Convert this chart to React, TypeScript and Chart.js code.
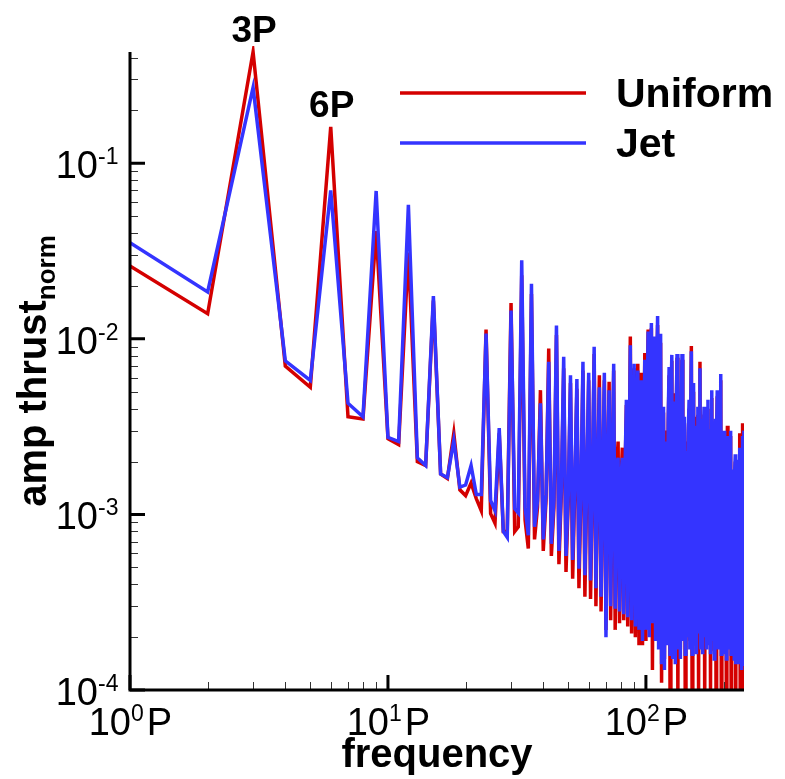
import React, { useEffect, useRef } from 'react';
import { Chart, registerables } from 'chart.js';

Chart.register(...registerables);

// ---------- DATA ----------
const freqLow = [1, 2, 3, 4, 5, 6, 7, 8, 9, 10, 11, 12, 13, 14, 15, 16, 17, 18, 19, 20, 21, 22, 23, 24, 25, 26, 27, 28, 29];
const freqMid = [30, 31, 32, 33, 34, 35, 36, 37, 38, 39, 40, 41, 42, 43, 44, 45, 46, 47, 48, 49, 50, 51, 52, 53, 54, 55, 56, 57, 58, 59, 60, 61, 62, 63, 64, 65, 66, 67, 68, 69, 70, 71, 72, 73, 74, 75, 76, 77, 78, 79, 80, 81, 82, 83, 84, 85, 86, 87, 88, 89, 90, 91, 92, 93, 94, 95, 96, 97, 98, 99];
const freqHigh = [100, 101, 102, 103, 104, 105, 106, 107, 108, 109, 110, 111, 112, 113, 114, 115, 116, 117, 118, 119, 120, 121, 122, 123, 124, 125, 126, 127, 128, 129, 130, 131, 132, 133, 134, 135, 136, 137, 138, 139, 140, 141, 142, 143, 144, 145, 146, 147, 148, 149, 150, 151, 152, 153, 154, 155, 156, 157, 158, 159, 160, 161, 162, 163, 164, 165, 166, 167, 168, 169, 170, 171, 172, 173, 174, 175, 176, 177, 178, 179, 180, 181, 182, 183, 184, 185, 186, 187, 188, 189, 190, 191, 192, 193, 194, 195, 196, 197, 198, 199, 200, 201, 202, 203, 204, 205, 206, 207, 208, 209, 210, 211, 212, 213, 214, 215, 216, 217, 218, 219, 220, 221, 222, 223, 224, 225, 226, 227, 228, 229, 230, 231, 232, 233, 234, 235, 236, 237, 238, 239, 240];

const uniformLow = [0.026, 0.0139, 0.43, 0.0070, 0.0053, 0.161, 0.0036, 0.0035, 0.041, 0.0027,
  0.0025, 0.031, 0.0020, 0.0019, 0.0165, 0.0017, 0.0016, 0.0029, 0.00138, 0.00128,
  0.00151, 0.00123, 0.00105, 0.0113, 0.00101, 0.00089, 0.0029, 0.0008, 0.0008];
const jetLow = [0.0353, 0.0185, 0.27, 0.0075, 0.0058, 0.070, 0.0043, 0.0036, 0.0695, 0.00275,
  0.0026, 0.058, 0.0021, 0.0019, 0.0175, 0.0017, 0.00162, 0.00264, 0.00143, 0.00147,
  0.0019, 0.0013, 0.0013, 0.0107, 0.0012, 0.00105, 0.0031, 0.0008, 0.00074];

const uniformMid = [0.016, 0.0008, 0.00085, 0.023, 0.00093, 0.00064, 0.018, 0.00072, 0.0011, 0.0051,
  0.00062, 0.0012, 0.0088, 0.00058, 0.0011, 0.0105, 0.00052, 0.0013, 0.0068, 0.00047,
  0.0012, 0.0056, 0.00043, 0.0014, 0.0052, 0.00038, 0.0013, 0.0066, 0.00034, 0.0015,
  0.0058, 0.00033, 0.0014, 0.0082, 0.0003, 0.0016, 0.0062, 0.00028, 0.0015, 0.0058,
  0.00022, 0.0017, 0.0057, 0.00025, 0.0016, 0.0066, 0.00022, 0.0018, 0.0026, 0.00024,
  0.0015, 0.0024, 0.00025, 0.0017, 0.0042, 0.00023, 0.0016, 0.0103, 0.00021, 0.0018,
  0.0068, 0.0002, 0.0017, 0.0072, 0.00018, 0.0019, 0.0064, 0.00018, 0.0018, 0.0083];
const jetMid = [0.0145, 0.00108, 0.00102, 0.028, 0.0011, 0.00076, 0.0206, 0.00085, 0.0012, 0.0043,
  0.00072, 0.0013, 0.0074, 0.00068, 0.0012, 0.0119, 0.00062, 0.0014, 0.0079, 0.00058,
  0.0013, 0.0062, 0.00055, 0.0015, 0.0059, 0.00049, 0.0014, 0.0074, 0.00045, 0.0016,
  0.0064, 0.00042, 0.0015, 0.009, 0.00038, 0.0017, 0.0053, 0.00034, 0.0016, 0.0064,
  0.0002, 0.0018, 0.0051, 0.0003, 0.0017, 0.0072, 0.00029, 0.0019, 0.0021, 0.00028,
  0.0016, 0.0021, 0.00027, 0.0018, 0.0045, 0.00026, 0.0017, 0.0092, 0.00025, 0.0019,
  0.0072, 0.00023, 0.0018, 0.0066, 0.00022, 0.002, 0.0058, 0.00019, 0.0019, 0.0076];

const uniformHigh = [
  0.00019, 0.0036, 0.0113, 0.00022, 0.005, 0.0115, 0.00013, 0.004, 0.0098, 0.00021, 0.0054, 0.012,
  0.00019, 0.0045, 0.0095, 0.00011, 0.0025, 0.0038, 0.00015, 0.0024, 0.003, 0.0002, 0.0032, 0.0062,
  0.0001, 0.0036, 0.0075, 0.00017, 0.0027, 0.0049, 0.00016, 0.0034, 0.0078, 0.00009, 0.002, 0.0026,
  0.00017, 0.0032, 0.0076, 0.00021, 0.0025, 0.0033, 0.0001, 0.0018, 0.0026, 0.00022, 0.0027, 0.004,
  0.00019, 0.003, 0.0091, 0.00009, 0.0027, 0.005, 0.0002, 0.0022, 0.0036, 0.00018, 0.0025, 0.0037,
  0.0001, 0.0027, 0.0074, 0.00019, 0.0022, 0.003, 0.00018, 0.0024, 0.0037, 0.00008, 0.002, 0.0025,
  0.00019, 0.0025, 0.004, 0.0002, 0.0015, 0.0018, 0.0001, 0.0027, 0.0046, 0.00021, 0.0018, 0.0022,
  0.00017, 0.0022, 0.0031, 0.00009, 0.0027, 0.0047, 0.00019, 0.0022, 0.003, 0.0002, 0.0029, 0.0058,
  0.0001, 0.0018, 0.0023, 0.00022, 0.0022, 0.0027, 0.00018, 0.0017, 0.0024, 0.00008, 0.002, 0.0032,
  0.0002, 0.0018, 0.0024, 0.00019, 0.0021, 0.0028, 0.0001, 0.0014, 0.0016, 0.00023, 0.0014, 0.0016,
  0.00017, 0.0016, 0.002, 0.00009, 0.0014, 0.0017, 0.0002, 0.0014, 0.0016, 0.00016, 0.0018, 0.0029,
  0.0001, 0.0016, 0.0019, 0.00015, 0.002, 0.0033, 0.00009, 0.0022, 0.0033];
const jetHigh = [
  0.00022, 0.004, 0.011, 0.0002, 0.0055, 0.0123, 0.00024, 0.0045, 0.0103, 0.00019, 0.006, 0.0135,
  0.00017, 0.005, 0.0107, 0.00014, 0.0028, 0.0041, 0.00013, 0.0022, 0.0026, 0.00018, 0.0035, 0.0069,
  0.00016, 0.004, 0.0081, 0.00015, 0.003, 0.0044, 0.00014, 0.0038, 0.0082, 0.00017, 0.0022, 0.0024,
  0.00015, 0.0036, 0.0082, 0.00019, 0.0028, 0.0036, 0.00016, 0.002, 0.0023, 0.0002, 0.003, 0.0045,
  0.00017, 0.0034, 0.0085, 0.00016, 0.003, 0.0056, 0.00018, 0.0024, 0.0032, 0.00016, 0.0028, 0.0041,
  0.00021, 0.003, 0.0068, 0.00017, 0.0024, 0.0035, 0.00016, 0.0027, 0.0041, 0.0002, 0.0022, 0.0028,
  0.00017, 0.0028, 0.0045, 0.00018, 0.0017, 0.002, 0.00016, 0.003, 0.0051, 0.00019, 0.002, 0.0024,
  0.00015, 0.0025, 0.0035, 0.00021, 0.003, 0.0051, 0.00017, 0.0024, 0.0033, 0.00018, 0.0032, 0.0063,
  0.00016, 0.002, 0.0025, 0.0002, 0.0024, 0.003, 0.00016, 0.0019, 0.0022, 0.00015, 0.0022, 0.0028,
  0.00018, 0.002, 0.0026, 0.00017, 0.0023, 0.003, 0.00016, 0.0015, 0.0017, 0.00021, 0.0016, 0.0018,
  0.00015, 0.0018, 0.0022, 0.00014, 0.0016, 0.0019, 0.00018, 0.0015, 0.0017, 0.00014, 0.002, 0.0024,
  0.00017, 0.0018, 0.0021, 0.00013, 0.0022, 0.0028, 0.00014, 0.0024, 0.003];

const seriesNames = ['Uniform', 'Jet'];
const seriesColors = ['#d40000', '#3434ff'];
const yTickExponents = [-4, -3, -2, -1];
const xTickExponents = [0, 1, 2];
const peakLabels = ['3P', '6P'];
const peakFreqs = [3, 6];
const xTitle = 'frequency';
const yTitleMain = 'amp thrust';
const yTitleSub = 'norm';

const FONT = "'Liberation Sans', Arial, Helvetica, sans-serif";
const LINE_W = 3.5;

function toPoints(xs: number[], ys: number[]) {
  return xs.map((x, i) => ({ x, y: ys[i] }));
}

const customPlugin = {
  id: 'tecplotLook',
  afterDatasetsDraw(chart: any) {
    const ctx: CanvasRenderingContext2D = chart.ctx;
    const area = chart.chartArea;
    const xs = chart.scales.x;
    const ys = chart.scales.y;
    ctx.save();

    // minor ticks
    ctx.strokeStyle = '#333';
    ctx.lineWidth = 1;
    ctx.beginPath();
    for (const e of yTickExponents) {
      for (let m = 2; m <= 9; m++) {
        const v = m * Math.pow(10, e);
        if (v > ys.max) continue;
        const py = Math.round(ys.getPixelForValue(v)) + 0.5;
        ctx.moveTo(area.left, py);
        ctx.lineTo(area.left + 8, py);
      }
    }
    for (const e of xTickExponents) {
      for (let m = 2; m <= 9; m++) {
        const v = m * Math.pow(10, e);
        if (v > xs.max) continue;
        const px = Math.round(xs.getPixelForValue(v)) + 0.5;
        ctx.moveTo(px, area.bottom);
        ctx.lineTo(px, area.bottom - 8);
      }
    }
    ctx.stroke();

    // axis lines
    ctx.strokeStyle = '#000';
    ctx.lineWidth = 3;
    ctx.lineCap = 'butt';
    ctx.beginPath();
    ctx.moveTo(area.left, area.top);
    ctx.lineTo(area.left, area.bottom + 1.5);
    ctx.moveTo(area.left - 1.5, area.bottom);
    ctx.lineTo(area.right, area.bottom);
    ctx.stroke();

    // major ticks
    ctx.beginPath();
    for (const e of yTickExponents) {
      const py = ys.getPixelForValue(Math.pow(10, e));
      ctx.moveTo(area.left, py);
      ctx.lineTo(area.left + 15, py);
    }
    for (const e of xTickExponents) {
      const px = xs.getPixelForValue(Math.pow(10, e));
      ctx.moveTo(px, area.bottom);
      ctx.lineTo(px, area.bottom - 15);
    }
    ctx.stroke();

    // tick labels
    ctx.fillStyle = '#000';
    ctx.textBaseline = 'alphabetic';
    const big = `38px ${FONT}`;
    const small = `23px ${FONT}`;
    for (const e of yTickExponents) {
      const py = ys.getPixelForValue(Math.pow(10, e));
      const sx = 98;
      ctx.font = big;
      ctx.textAlign = 'right';
      ctx.fillText('10', sx, py + 15);
      ctx.font = small;
      ctx.textAlign = 'left';
      ctx.fillText(String(e), sx, py + 1);
    }
    for (const e of xTickExponents) {
      const px = xs.getPixelForValue(Math.pow(10, e));
      const by = area.bottom + 45;
      ctx.font = big;
      ctx.textAlign = 'right';
      ctx.fillText('10', px + 1, by);
      ctx.font = small;
      ctx.textAlign = 'left';
      ctx.fillText(String(e), px + 1, by - 14);
      const w = ctx.measureText(String(e)).width;
      ctx.font = big;
      ctx.fillText('P', px + 1 + w + 3, by);
    }

    // axis titles
    ctx.font = `bold 40px ${FONT}`;
    ctx.textAlign = 'center';
    ctx.fillText(xTitle, (area.left + area.right) / 2, area.bottom + 77);

    ctx.save();
    const mainW = ctx.measureText(yTitleMain).width;
    ctx.font = `bold 26px ${FONT}`;
    const subW = ctx.measureText(yTitleSub).width;
    const total = mainW + subW;
    const cy = (area.top + area.bottom) / 2;
    ctx.translate(46, cy + total / 2);
    ctx.rotate(-Math.PI / 2);
    ctx.textAlign = 'left';
    ctx.font = `bold 40px ${FONT}`;
    ctx.fillText(yTitleMain, 0, 0);
    ctx.font = `bold 26px ${FONT}`;
    ctx.fillText(yTitleSub, mainW, 9);
    ctx.restore();

    // peak annotations
    ctx.font = `bold 37px ${FONT}`;
    ctx.textAlign = 'center';
    const uni = chart.data.datasets[0].data;
    peakLabels.forEach((lab, i) => {
      const pt = uni.find((p: any) => p.x === peakFreqs[i]);
      const px = xs.getPixelForValue(peakFreqs[i]);
      const py = ys.getPixelForValue(pt.y);
      ctx.fillText(lab, px + 1, py - 10);
    });

    // legend
    const legendY = [93, 143];
    chart.data.datasets.forEach((ds: any, i: number) => {
      ctx.strokeStyle = ds.borderColor;
      ctx.lineWidth = LINE_W;
      ctx.beginPath();
      ctx.moveTo(400, legendY[i]);
      ctx.lineTo(586, legendY[i]);
      ctx.stroke();
      ctx.fillStyle = '#000';
      ctx.font = `bold 41px ${FONT}`;
      ctx.textAlign = 'left';
      ctx.fillText(ds.label, 616, legendY[i] + 14);
    });

    ctx.restore();
  },
};

export default function App() {
  const canvasRef = useRef<HTMLCanvasElement | null>(null);

  useEffect(() => {
    const canvas = canvasRef.current;
    if (!canvas) return;
    const freq = [...freqLow, ...freqMid, ...freqHigh];
    const uniform = [...uniformLow, ...uniformMid, ...uniformHigh];
    const jet = [...jetLow, ...jetMid, ...jetHigh];

    const chart = new Chart(canvas, {
      type: 'line',
      data: {
        datasets: [
          {
            label: seriesNames[0],
            data: toPoints(freq, uniform),
            borderColor: seriesColors[0],
            backgroundColor: seriesColors[0],
            borderWidth: LINE_W,
            pointRadius: 0,
            tension: 0,
            fill: false,
            order: 1,
            clip: { left: 0, top: 6, right: 0, bottom: 0 },
          },
          {
            label: seriesNames[1],
            data: toPoints(freq, jet),
            borderColor: seriesColors[1],
            backgroundColor: seriesColors[1],
            borderWidth: LINE_W,
            pointRadius: 0,
            tension: 0,
            fill: false,
            order: 0,
            clip: { left: 0, top: 6, right: 0, bottom: 0 },
          },
        ],
      },
      options: {
        responsive: false,
        animation: false,
        devicePixelRatio: 1,
        layout: { padding: { left: 130, right: 41, top: 52, bottom: 89 } },
        plugins: { legend: { display: false }, tooltip: { enabled: false } },
        scales: {
          x: { type: 'logarithmic', min: 1, max: 240, display: false },
          y: { type: 'logarithmic', min: 1e-4, max: 0.43, display: false },
        },
      },
      plugins: [customPlugin],
    } as any);

    return () => chart.destroy();
  }, []);

  return (
    <div style={{ position: 'fixed', left: 0, top: 0, width: 785, height: 779, background: '#fff' }}>
      <canvas ref={canvasRef} width={785} height={779} style={{ width: 785, height: 779, display: 'block' }} />
    </div>
  );
}
